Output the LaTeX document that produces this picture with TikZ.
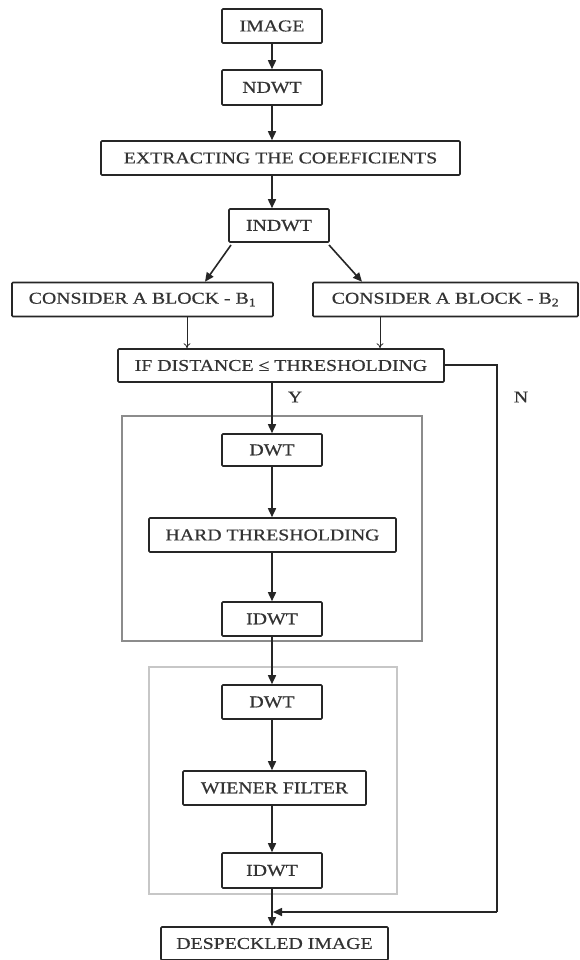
\documentclass[tikz,border=0pt]{standalone}
\usepackage{fontspec}
\setmainfont{Liberation Serif}[FakeStretch=1.2,FakeBold=0.6]
\usetikzlibrary{arrows.meta}
\begin{document}
\begin{tikzpicture}[x=1pt,y=-1pt,
  box/.style={draw=black!85, line width=1.6pt, inner sep=0pt, rounded corners=1pt,
    font=\fontsize{16.5}{17}\selectfont, text=black!80},
  arr/.style={draw=black!85, line width=1.6pt, -{Triangle[length=9pt,width=8pt]}},
  thin/.style={draw=black!85, line width=0.8pt, -{To[length=5pt,width=7pt]}},
  grp/.style={line width=1.4pt},
  lbl/.style={font=\fontsize{16.5}{17}\selectfont, text=black!80}]
\useasboundingbox (0,0) rectangle (580,960);
\fill[white] (0,0) rectangle (580,960);
% groups
\draw[grp, draw=black!45] (122,416) rectangle (422,641);
\draw[grp, draw=black!22] (149,667) rectangle (397,894);
% nodes
\node[box, minimum width=100pt, minimum height=34pt] (img) at (272,26) {IMAGE};
\node[box, minimum width=100pt, minimum height=35pt] (ndwt) at (272,87.5) {NDWT};
\node[box, minimum width=359pt, minimum height=34pt] (ext) at (280.5,158) {EXTRACTING THE COEEFICIENTS};
\node[box, minimum width=100pt, minimum height=33pt] (indwt) at (279,225.5) {INDWT};
\node[box, minimum width=261pt, minimum height=34pt] (b1) at (142.5,299.5) {CONSIDER A BLOCK - B\textsubscript{1}};
\node[box, minimum width=265pt, minimum height=34pt] (b2) at (445.5,299.5) {CONSIDER A BLOCK - B\textsubscript{2}};
\node[box, minimum width=326pt, minimum height=33pt] (ifd) at (281,365.5) {IF DISTANCE ≤ THRESHOLDING};
\node[box, minimum width=100pt, minimum height=32pt] (dwt1) at (272,450) {DWT};
\node[box, minimum width=247pt, minimum height=34pt] (hard) at (272.5,535) {HARD THRESHOLDING};
\node[box, minimum width=100pt, minimum height=34pt] (idwt1) at (272,619) {IDWT};
\node[box, minimum width=100pt, minimum height=34pt] (dwt2) at (272,702) {DWT};
\node[box, minimum width=183pt, minimum height=34pt] (wien) at (274.5,788) {WIENER FILTER};
\node[box, minimum width=100pt, minimum height=35pt] (idwt2) at (272,870.5) {IDWT};
\node[box, minimum width=227pt, minimum height=33pt] (desp) at (274.5,943.5) {DESPECKLED IMAGE};
\node[lbl] (ylab) at (295,397) {Y};
\node[lbl] (nlab) at (521,397) {N};
% coordinates
\coordinate (i1) at (231,245);
\coordinate (i2) at (329,245);
\coordinate (nr) at (497,365);
\coordinate (nb) at (497,912);
\coordinate (mg) at (273,912);
% connectors
\draw[arr] (img) -- (ndwt);
\draw[arr] (ndwt) -- (ndwt |- ext.north);
\draw[arr] (ext.south -| img) -- (indwt.north -| img);
\draw[arr] (i1) -- (b1.north -| 205,0);
\draw[arr] (i2) -- (b2.north -| 362,0);
\draw[thin] (b1.south -| 187,0) -- (ifd.north -| 187,0);
\draw[thin] (b2.south -| 380,0) -- (ifd.north -| 380,0);
\draw[arr] (ifd.south -| img) -- (dwt1.north);
\draw[arr] (dwt1) -- (hard.north -| dwt1);
\draw[arr] (hard.south -| img) -- (idwt1.north);
\draw[arr] (idwt1) -- (dwt2);
\draw[arr] (dwt2) -- (wien.north -| img);
\draw[arr] (wien.south -| img) -- (idwt2.north);
\draw[arr] (idwt2) -- (desp.north -| img);
\draw[draw=black!85, line width=1.6pt] (ifd.east |- nr) -- (nr) -- (nb);
\draw[arr] (nb) -- (mg);
\end{tikzpicture}
\end{document}
